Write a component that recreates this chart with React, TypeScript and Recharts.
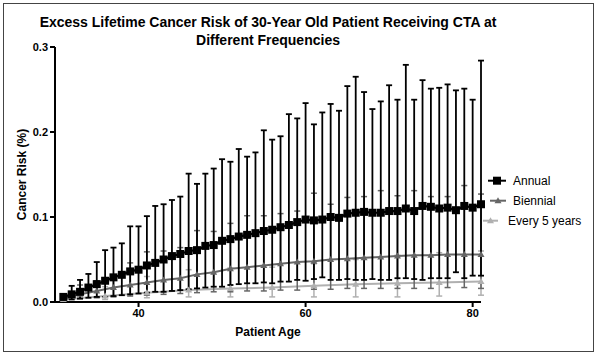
import React from 'react';
import { ComposedChart, Line, XAxis, YAxis, ErrorBar } from 'recharts';

const titleLines = ['Excess Lifetime Cancer Risk of 30-Year Old Patient Receiving CTA at', 'Different Frequencies'];
const xLabel = 'Patient Age';
const yLabel = 'Cancer Risk (%)';
const xTicks = [40, 60, 80];
const yTicks = [0, 0.1, 0.2, 0.3];
const seriesNames = ['Annual', 'Biennial', 'Every 5 years'];

const annualAges = [31, 32, 33, 34, 35, 36, 37, 38, 39, 40, 41, 42, 43, 44, 45, 46, 47, 48, 49, 50, 51, 52, 53, 54, 55, 56, 57, 58, 59, 60, 61, 62, 63, 64, 65, 66, 67, 68, 69, 70, 71, 72, 73, 74, 75, 76, 77, 78, 79, 80, 81];
const annualMean = [0.006, 0.009, 0.012, 0.017, 0.021, 0.025, 0.029, 0.032, 0.036, 0.038, 0.043, 0.046, 0.05, 0.054, 0.0565, 0.06, 0.061, 0.066, 0.067, 0.072, 0.074, 0.077, 0.079, 0.081, 0.0835, 0.085, 0.088, 0.0906, 0.094, 0.097, 0.096, 0.097, 0.1, 0.099, 0.104, 0.105, 0.106, 0.105, 0.105, 0.107, 0.107, 0.11, 0.107, 0.113, 0.112, 0.11, 0.111, 0.108, 0.113, 0.111, 0.115];
const annualLow = [0.003, 0.003, 0.004, 0.005, 0.006, 0.006, 0.007, 0.008, 0.009, 0.01, 0.011, 0.012, 0.012, 0.013, 0.014, 0.015, 0.016, 0.017, 0.018, 0.018, 0.02, 0.021, 0.022, 0.022, 0.023, 0.022, 0.024, 0.024, 0.026, 0.025, 0.027, 0.029, 0.026, 0.026, 0.027, 0.026, 0.026, 0.027, 0.026, 0.026, 0.028, 0.028, 0.027, 0.026, 0.028, 0.028, 0.028, 0.035, 0.028, 0.031, 0.031];
const annualHigh = [0.009, 0.019, 0.026, 0.033, 0.047, 0.061, 0.064, 0.069, 0.089, 0.089, 0.101, 0.113, 0.115, 0.12, 0.124, 0.151, 0.139, 0.151, 0.157, 0.168, 0.165, 0.18, 0.171, 0.176, 0.202, 0.191, 0.195, 0.221, 0.216, 0.234, 0.209, 0.223, 0.233, 0.225, 0.254, 0.265, 0.247, 0.227, 0.236, 0.255, 0.238, 0.279, 0.238, 0.261, 0.251, 0.252, 0.256, 0.249, 0.251, 0.238, 0.284];

const biennialAges = [31, 33, 35, 37, 39, 41, 43, 45, 47, 49, 51, 53, 55, 57, 59, 61, 63, 65, 67, 69, 71, 73, 75, 77, 79, 81];
const biennialMean = [0.004, 0.009, 0.013, 0.017, 0.02, 0.023, 0.026, 0.028, 0.0325, 0.035, 0.039, 0.041, 0.043, 0.045, 0.047, 0.048, 0.05, 0.051, 0.052, 0.053, 0.054, 0.055, 0.055, 0.056, 0.056, 0.056];
const biennialLow = [0.003, 0.004, 0.005, 0.006, 0.007, 0.008, 0.009, 0.01, 0.011, 0.012, 0.012, 0.013, 0.013, 0.014, 0.014, 0.015, 0.015, 0.016, 0.016, 0.016, 0.016, 0.016, 0.016, 0.017, 0.017, 0.016];
const biennialHigh = [0.008, 0.02, 0.025, 0.031, 0.046, 0.059, 0.06, 0.064, 0.084, 0.083, 0.0925, 0.1015, 0.1015, 0.104, 0.107, 0.128, 0.115, 0.123, 0.124, 0.131, 0.125, 0.131, 0.124, 0.124, 0.137, 0.127];

const every5Ages = [31, 36, 41, 46, 51, 56, 61, 66, 71, 76, 81];
const every5Mean = [0.003, 0.007, 0.011, 0.014, 0.016, 0.017, 0.019, 0.021, 0.022, 0.023, 0.024];
const every5Low = [0.001, 0.003, 0.005, 0.006, 0.006, 0.006, 0.006, 0.006, 0.006, 0.007, 0.008];
const every5High = [0.006, 0.018, 0.03, 0.038, 0.04, 0.041, 0.045, 0.05, 0.055, 0.058, 0.06];

const build = (ages: number[], mean: number[], low: number[], high: number[]) =>
  ages.map((age, i) => ({ age, value: mean[i], err: [mean[i] - low[i], high[i] - mean[i]] }));

const annualData = build(annualAges, annualMean, annualLow, annualHigh);
const biennialData = build(biennialAges, biennialMean, biennialLow, biennialHigh);
const every5Data = build(every5Ages, every5Mean, every5Low, every5High);

const COL_A = '#000000';
const COL_B = '#666666';
const COL_C = '#b0b0b0';
const FONT = '"Liberation Sans", Arial, Helvetica, sans-serif';

const squareDot = (props: any) => {
  const { cx, cy, index } = props;
  if (cx == null || cy == null) return <g key={`sq-${index}`} />;
  return <rect key={`sq-${index}`} x={cx - 4} y={cy - 4} width={8} height={8} fill={COL_A} />;
};

const triDot = (color: string, prefix: string) => (props: any) => {
  const { cx, cy, index } = props;
  if (cx == null || cy == null) return <g key={`${prefix}-${index}`} />;
  return (
    <polygon
      key={`${prefix}-${index}`}
      points={`${cx},${cy - 3.5} ${cx - 3.5},${cy + 2.5} ${cx + 3.5},${cy + 2.5}`}
      fill={color}
    />
  );
};

const tickStyle = { fontSize: 11, fontWeight: 'bold' as const, fill: '#000', fontFamily: FONT };

export default function App() {
  return (
    <div style={{ position: 'absolute', left: 0, top: 0, width: 597, height: 356, background: '#fff', fontFamily: FONT }}>
      <div style={{ position: 'absolute', left: 3, top: 3, width: 589, height: 347, border: '1.5px solid #444' }} />
      <div style={{ position: 'absolute', left: 0, top: 13, width: 536, textAlign: 'center', fontSize: 14, fontWeight: 'bold', lineHeight: '18px', color: '#000', whiteSpace: 'nowrap' }}>
        <div>{titleLines[0]}</div>
        <div>{titleLines[1]}</div>
      </div>
      <div style={{ position: 'absolute', left: 0, top: 0 }}>
        <ComposedChart width={597} height={356} margin={{ top: 47, right: 116, bottom: 14, left: 0 }}>
          <XAxis
            dataKey="age"
            type="number"
            domain={[30, 81]}
            ticks={xTicks}
            allowDuplicatedCategory={false}
            height={40}
            axisLine={{ stroke: '#000', strokeWidth: 2 }}
            tickLine={{ stroke: '#000', strokeWidth: 2 }}
            tickSize={5}
            tickMargin={2}
            tick={tickStyle}
            label={{
              content: () => (
                <text x={268} y={336} textAnchor="middle" fontSize={12} fontWeight="bold" fontFamily={FONT} fill="#000">
                  {xLabel}
                </text>
              ),
            }}
          />
          <YAxis
            type="number"
            domain={[0, 0.3]}
            ticks={yTicks}
            width={55}
            axisLine={{ stroke: '#000', strokeWidth: 2 }}
            tickLine={{ stroke: '#000', strokeWidth: 2 }}
            tickSize={5}
            tickMargin={2}
            tick={tickStyle}
            tickFormatter={(v: number) => v.toFixed(1)}
            label={{
              content: () => (
                <text x={26} y={174.5} transform="rotate(-90 26 174.5)" textAnchor="middle" fontSize={12} fontWeight="bold" fontFamily={FONT} fill="#000">
                  {yLabel}
                </text>
              ),
            }}
          />
          <Line data={every5Data} dataKey="value" name={seriesNames[2]} stroke={COL_C} strokeWidth={2} dot={triDot(COL_C, 'c')} activeDot={false} isAnimationActive={false}>
            <ErrorBar dataKey="err" direction="y" width={3} stroke={COL_C} strokeWidth={1.5} />
          </Line>
          <Line data={biennialData} dataKey="value" name={seriesNames[1]} stroke={COL_B} strokeWidth={2} dot={triDot(COL_B, 'b')} activeDot={false} isAnimationActive={false}>
            <ErrorBar dataKey="err" direction="y" width={3} stroke={COL_B} strokeWidth={1.5} />
          </Line>
          <Line data={annualData} dataKey="value" name={seriesNames[0]} stroke={COL_A} strokeWidth={2.2} dot={squareDot} activeDot={false} isAnimationActive={false}>
            <ErrorBar dataKey="err" direction="y" width={3} stroke={COL_A} strokeWidth={1.8} />
          </Line>
        </ComposedChart>
      </div>
      {/* Legend */}
      <svg style={{ position: 'absolute', left: 0, top: 0 }} width={597} height={356}>
        <line x1={488} y1={180.7} x2={506} y2={180.7} stroke={COL_A} strokeWidth={2} />
        <rect x={493} y={176.7} width={8} height={8} fill={COL_A} />
        <line x1={490} y1={200.7} x2={506} y2={200.7} stroke={COL_B} strokeWidth={2} />
        <polygon points="498,197.2 494.5,203.2 501.5,203.2" fill={COL_B} />
        <line x1={483} y1={220.7} x2={498} y2={220.7} stroke={COL_C} strokeWidth={2} />
        <polygon points="490.5,217.2 487,223.2 494,223.2" fill={COL_C} />
        <text x={513} y={185} fontSize={12} fontFamily={FONT} fill="#000">{seriesNames[0]}</text>
        <text x={513} y={205} fontSize={12} fontFamily={FONT} fill="#000">{seriesNames[1]}</text>
        <text x={508} y={225} fontSize={12} fontFamily={FONT} fill="#000">{seriesNames[2]}</text>
      </svg>
    </div>
  );
}
